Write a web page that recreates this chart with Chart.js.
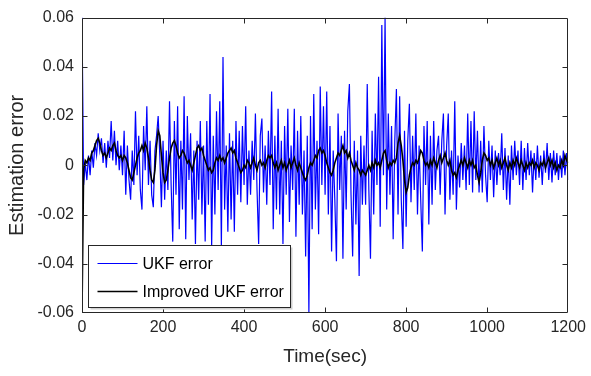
<!DOCTYPE html>
<html>
<head>
<meta charset="utf-8">
<script src="https://cdn.jsdelivr.net/npm/chart.js@4.4.1/dist/chart.umd.min.js"></script>
<style>
html,body{margin:0;padding:0;background:#fff;}
#wrap{width:591px;height:376px;}
</style>
</head>
<body>
<div id="wrap"><canvas id="c" width="591" height="376"></canvas></div>
<script>
// time step (sec) of the sampled curves
const timeStep = 4;
// axis ticks
const xTicks = [0, 200, 400, 600, 800, 1000, 1200];
const yTicks = [-0.06, -0.04, -0.02, 0, 0.02, 0.04, 0.06];

// UKF error (blue), t = 0,4,...,1200
const ukfError = [
 .060,-.008,.001,-.006,.004,-.004,.006,-.001,.009,.004,.013,.006,.011,.001,.009,-.001,.010,.003,.018,.002,.014,.000,.010,-.002,.008,
 -.004,.014,-.012,.008,-.006,-.014,.006,-.008,.022,-.004,.012,-.010,-.018,.016,-.002,.024,-.008,.010,-.012,-.017,.006,.012,.020,.004,-.017,
 .010,-.014,.006,-.010,.026,-.008,-.031,.018,-.012,.024,-.026,.010,-.018,.028,-.030,.020,-.006,.013,-.022,.006,-.032,.010,-.014,.018,-.020,
 .008,-.031,.018,-.016,.029,-.033,.012,-.020,.022,-.010,.026,-.033,.044,-.018,.008,-.027,.013,-.022,.010,-.027,.018,-.012,.014,-.015,.016,
 -.008,.024,-.016,.006,-.012,.010,-.006,.021,-.010,-.032,.012,.019,-.011,.008,-.016,.014,-.008,.030,-.026,.012,-.018,.023,-.020,.010,-.032,
 .016,-.012,.023,-.023,.008,-.010,.023,-.029,.014,-.016,.020,-.020,.006,-.037,.012,-.060,.020,-.026,.029,-.018,.010,-.028,.032,-.008,.024,
 -.012,.030,-.020,.016,-.035,.006,-.014,-.039,.021,-.010,.012,-.038,.014,-.018,.022,.033,-.012,-.037,.010,-.024,.006,-.045,.012,-.016,.008,
 -.016,.033,-.010,-.038,.014,-.020,.021,-.008,.036,-.025,.057,-.004,.060,-.018,.021,-.012,.016,-.030,.010,.031,-.020,.028,-.014,-.034,.014,
 -.025,.010,.025,-.015,.012,-.010,.021,-.020,.008,-.014,-.035,.016,-.008,.018,-.024,.012,-.016,.018,-.010,.006,.012,-.012,.010,.021,-.020,
 .008,.021,-.014,.006,-.012,.026,-.018,.004,-.009,.009,-.006,.008,-.010,.021,-.008,.018,-.011,.022,-.006,.014,-.011,.010,-.011,.016,-.004,
 -.015,.010,-.006,.008,-.013,.006,-.008,.005,-.004,.013,-.010,.007,-.014,.004,-.016,.008,-.006,.010,-.004,.006,-.008,.010,-.010,.007,-.006,
 .009,-.004,.006,-.011,.005,-.006,.008,-.005,.004,-.008,.006,-.003,.009,-.006,.005,-.007,.006,-.004,.005,-.006,.004,-.005,.006,-.004,.005,
 -.006
];

// Improved UKF error (black), t = 0,4,...,1200
const improvedError = [
 -.060,-.002,.002,.001,.003,.002,.005,.006,.008,.010,.011,.009,.006,.004,.005,.003,.005,.007,.006,.008,.009,.006,.004,.003,.004,
 .002,.004,.003,.001,-.002,-.005,-.006,-.003,.000,.003,.005,.006,.008,.006,.009,.007,.003,-.002,-.006,-.007,-.002,.008,.014,.012,.004,
 -.003,-.007,-.006,-.002,.003,.007,.009,.010,.008,.005,.003,.004,.006,.005,.003,.001,.002,.000,-.002,.001,.004,.007,.008,.006,.007,
 .004,.002,.000,-.002,-.001,-.003,-.002,.001,.003,.002,.004,.002,.003,.001,.003,.005,.006,.007,.005,.006,.003,.001,-.001,-.003,-.002,
 .000,-.001,.002,.001,-.001,.001,.003,.000,-.002,.001,.002,.000,.001,-.001,.002,.004,.003,.004,.001,-.001,.001,-.002,.000,.002,-.001,
 .001,-.002,.000,.002,-.001,.001,.003,.000,-.002,.001,-.001,-.003,-.005,-.006,-.004,-.001,.001,.000,.002,.004,.003,.006,.007,.005,.006,
 .004,.001,-.001,-.003,-.004,-.002,.001,.003,.005,.004,.006,.008,.005,.006,.003,.005,.002,.000,-.002,.001,-.001,-.002,-.004,-.002,-.003,
 -.004,-.002,.000,-.002,.001,-.001,.002,.000,.001,-.001,.002,.005,.006,.002,-.001,.001,.000,.002,.001,.003,.009,.012,.008,.002,-.006,
 -.011,-.009,-.004,-.001,.001,.000,.002,.001,.003,.006,.005,.002,.000,.001,-.001,.002,.000,.003,.001,-.001,.002,.004,.001,.003,.005,
 .002,.000,.002,-.002,-.004,-.003,-.005,-.002,.000,.002,.000,.003,.001,-.001,.002,.000,.002,-.001,.000,-.004,-.007,-.003,.002,.005,.004,
 .002,.003,.000,.002,-.001,.001,.003,.000,.002,-.001,.001,.003,.000,-.002,.001,-.001,.002,.000,.003,.001,-.001,.002,.000,-.002,.001,
 -.001,.001,.000,.002,-.001,.001,.000,-.002,.001,.000,.002,-.001,.001,.003,.000,.002,-.001,.001,-.002,.000,-.001,.002,.000,.004,.002,
 .001
];

const seriesLabels = ['UKF error', 'Improved UKF error'];

const toPoints = arr => arr.map((v, i) => ({x: i * timeStep, y: v}));

const AXIS = '#262626';
const FONT = "'Liberation Sans', Arial, Helvetica, sans-serif";

const frame = {
  id: 'frame',
  afterDatasetsDraw(chart) {
    const {ctx, chartArea: a, scales: {x, y}} = chart;
    ctx.save();
    ctx.strokeStyle = AXIS;
    ctx.lineWidth = 1;
    const L = Math.round(a.left) + 0.5, R = Math.round(a.right) - 0.5;
    const T = Math.round(a.top) + 0.5, B = Math.round(a.bottom) - 0.5;
    ctx.beginPath();
    ctx.rect(L, T, R - L, B - T);
    const tl = 5;
    xTicks.forEach(v => {
      const p = Math.round(x.getPixelForValue(v)) + 0.5;
      if (p < L + 1 || p > R - 1) return;
      ctx.moveTo(p, B); ctx.lineTo(p, B - tl);
      ctx.moveTo(p, T); ctx.lineTo(p, T + tl);
    });
    yTicks.forEach(v => {
      const p = Math.round(y.getPixelForValue(v)) + 0.5;
      if (p < T + 1 || p > B - 1) return;
      ctx.moveTo(L, p); ctx.lineTo(L + tl, p);
      ctx.moveTo(R, p); ctx.lineTo(R - tl, p);
    });
    ctx.stroke();

    // legend box (lower-left inside axes)
    const bx = L + 6, by = B - 67, bw = 202, bh = 62;
    ctx.fillStyle = '#d0d0d0';
    ctx.fillRect(bx + 2, by + 2, bw, bh);
    ctx.fillStyle = '#ffffff';
    ctx.fillRect(bx, by, bw, bh);
    ctx.strokeStyle = AXIS;
    ctx.strokeRect(bx, by, bw, bh);
    const ds = chart.data.datasets;
    const rows = [by + 18, by + 46];
    ds.forEach((d, i) => {
      const yy = rows[i];
      ctx.beginPath();
      ctx.strokeStyle = d.borderColor;
      ctx.lineWidth = d.borderWidth;
      ctx.moveTo(bx + 9, yy);
      ctx.lineTo(bx + 49, yy);
      ctx.stroke();
      ctx.fillStyle = '#000';
      ctx.font = '16px ' + FONT;
      ctx.textBaseline = 'middle';
      ctx.textAlign = 'left';
      ctx.fillText(d.label, bx + 54, yy + 1);
    });
    ctx.restore();
  }
};

new Chart(document.getElementById('c'), {
  type: 'line',
  data: {
    datasets: [
      {label: seriesLabels[0], data: toPoints(ukfError), borderColor: '#0000ff', borderWidth: 1.2, pointRadius: 0, order: 2, tension: 0},
      {label: seriesLabels[1], data: toPoints(improvedError), borderColor: '#000000', borderWidth: 1.6, pointRadius: 0, order: 1, tension: 0}
    ]
  },
  options: {
    responsive: false,
    animation: false,
    events: [],
    layout: {padding: {left: 5, right: 22, top: 13, bottom: 8}},
    plugins: {legend: {display: false}, tooltip: {enabled: false}},
    scales: {
      x: {
        type: 'linear', min: 0, max: 1200,
        afterBuildTicks: s => { s.ticks = xTicks.map(v => ({value: v})); },
        afterFit: s => { s.height = 55; },
        grid: {display: false, drawTicks: false},
        border: {display: false},
        ticks: {padding: 5, color: AXIS, font: {family: FONT, size: 16}, maxRotation: 0, callback: v => String(v)},
        title: {display: true, text: 'Time(sec)', color: AXIS, font: {family: FONT, size: 19}, padding: {top: 4, bottom: 0}}
      },
      y: {
        type: 'linear', min: -0.06, max: 0.06,
        afterBuildTicks: s => { s.ticks = yTicks.map(v => ({value: v})); },
        afterFit: s => { s.width = 77; },
        grid: {display: false, drawTicks: false},
        border: {display: false},
        ticks: {padding: 8, color: AXIS, font: {family: FONT, size: 16}, callback: v => Math.abs(v) < 1e-9 ? '0' : v.toFixed(2)},
        title: {display: true, text: 'Estimation error', color: AXIS, font: {family: FONT, size: 20}, padding: {top: 0, bottom: 0}}
      }
    }
  },
  plugins: [frame]
});
</script>
</body>
</html>
